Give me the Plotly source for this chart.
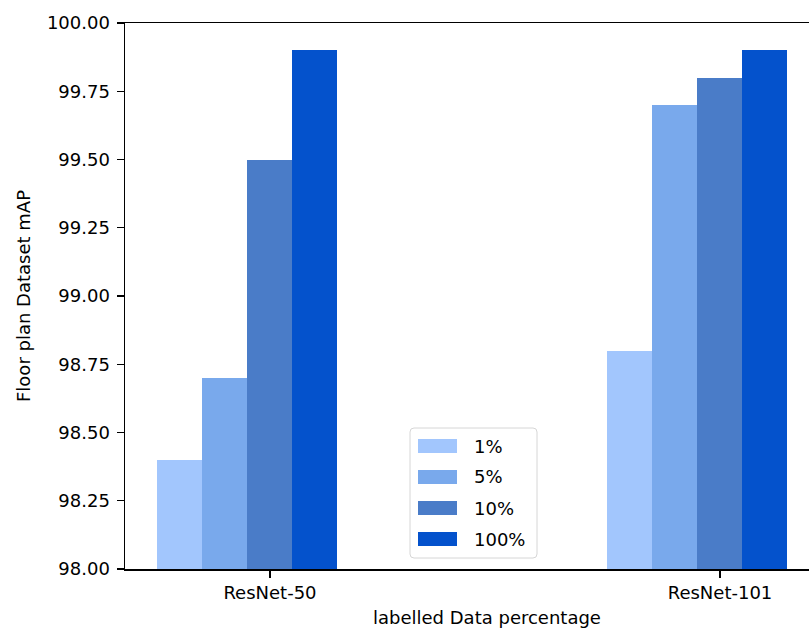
import plotly.graph_objects as go

# ---- data ----
models = ["ResNet-50", "ResNet-101"]
percentages = ["1%", "5%", "10%", "100%"]
map_1 = [98.40, 98.80]
map_5 = [98.70, 99.70]
map_10 = [99.50, 99.80]
map_100 = [99.90, 99.90]
colors = ["#a2c6fd", "#79a9ec", "#4a7cc8", "#0452cc"]
yticks = [98.00, 98.25, 98.50, 98.75, 99.00, 99.25, 99.50, 99.75, 100.00]

series = [map_1, map_5, map_10, map_100]
bar_w = 0.1
group_pos = list(range(len(models)))

W, H = 809, 630
ML, MR, MT, MB = 125, 0, 23, 61
FONT = "DejaVu Sans"
FS = 18

fig = go.Figure()
for i, (name, vals, col) in enumerate(zip(percentages, series, colors)):
    fig.add_trace(go.Bar(
        x=[g + i * bar_w for g in group_pos], y=vals, width=bar_w,
        name=name, marker=dict(color=col, line=dict(width=0)),
        showlegend=False))

# pixel -> paper helpers
pw, ph = W - ML - MR, H - MT - MB
def px(x):
    return (x - ML) / pw
def py(y):
    return (H - MB - y) / ph

shapes = []
annotations = []
# custom legend box (rounded)
x0, x1, y0, y1, r = 410, 537, 428, 558, 4
path = (f"M {px(x0 + r)} {py(y0)} L {px(x1 - r)} {py(y0)} "
        f"Q {px(x1)} {py(y0)} {px(x1)} {py(y0 + r)} L {px(x1)} {py(y1 - r)} "
        f"Q {px(x1)} {py(y1)} {px(x1 - r)} {py(y1)} L {px(x0 + r)} {py(y1)} "
        f"Q {px(x0)} {py(y1)} {px(x0)} {py(y1 - r)} L {px(x0)} {py(y0 + r)} "
        f"Q {px(x0)} {py(y0)} {px(x0 + r)} {py(y0)} Z")
shapes.append(dict(type="path", xref="paper", yref="paper", path=path,
                   fillcolor="rgba(255,255,255,0.8)",
                   line=dict(color="#d6d6d6", width=1)))
centers = [446, 477, 508, 539]
for name, col, cy in zip(percentages, colors, centers):
    shapes.append(dict(type="rect", xref="paper", yref="paper",
                       x0=px(418), x1=px(457), y0=py(cy + 7), y1=py(cy - 7),
                       fillcolor=col, line=dict(width=0)))
    annotations.append(dict(xref="paper", yref="paper", x=px(472), y=py(cy),
                            xanchor="left", yanchor="middle", text=name,
                            showarrow=False, font=dict(family=FONT, size=FS, color="black")))

# axis titles
annotations.append(dict(xref="paper", yref="paper", x=px(487), y=py(617),
                        xanchor="center", yanchor="middle",
                        text="labelled Data percentage", showarrow=False,
                        font=dict(family=FONT, size=FS, color="black")))
annotations.append(dict(xref="paper", yref="paper", x=px(23), y=py(296),
                        xanchor="center", yanchor="middle", textangle=-90,
                        text="Floor plan Dataset mAP", showarrow=False,
                        font=dict(family=FONT, size=FS, color="black")))

fig.update_layout(
    width=W, height=H,
    margin=dict(l=ML, r=MR, t=MT, b=MB, pad=0),
    plot_bgcolor="white", paper_bgcolor="white",
    barmode="overlay", bargap=0,
    font=dict(family=FONT, size=FS, color="black"),
    shapes=shapes, annotations=annotations,
    xaxis=dict(range=[-0.1222, 1.3978],
               tickvals=[g + 2 * bar_w for g in group_pos], ticktext=models,
               showline=True, linecolor="black", linewidth=1.5, mirror=True,
               ticks="outside", ticklen=7, tickwidth=1.3, tickcolor="black",
               showgrid=False, zeroline=False,
               tickfont=dict(family=FONT, size=FS, color="black")),
    yaxis=dict(range=[98, 100], tickvals=yticks, tickformat=".2f",
               showline=True, linecolor="black", linewidth=1.5, mirror=False,
               ticks="outside", ticklen=7, tickwidth=1.3, tickcolor="black",
               ticklabelstandoff=3,
               showgrid=False, zeroline=False,
               tickfont=dict(family=FONT, size=FS, color="black")),
)

fig.write_html("out.html", config={"displayModeBar": False, "staticPlot": True})

# remove the browser's default body margin so the figure fills the window
with open("out.html", "r", encoding="utf-8") as f:
    html = f.read()
html = html.replace("<head>", "<head><style>html,body{margin:0;padding:0;overflow:hidden;}</style>", 1)
with open("out.html", "w", encoding="utf-8") as f:
    f.write(html)
